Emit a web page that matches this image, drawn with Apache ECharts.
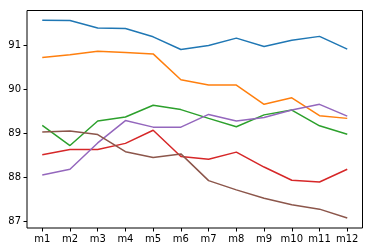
<!DOCTYPE html>
<html><head><meta charset="utf-8">
<script src="https://cdn.jsdelivr.net/npm/echarts@6/dist/echarts.min.js"></script>
<style>html,body{margin:0;padding:0;background:#fff}#c{width:372px;height:252px}</style>
</head><body><div id="c"></div>
<script>
const categories = ['m1','m2','m3','m4','m5','m6','m7','m8','m9','m10','m11','m12'];
const yTicks = [87, 88, 89, 90, 91];
const s1 = [91.58, 91.57, 91.40, 91.39, 91.20, 90.91, 91.00, 91.17, 90.98, 91.12, 91.21, 90.92];
const s2 = [90.73, 90.79, 90.87, 90.84, 90.81, 90.22, 90.10, 90.10, 89.66, 89.81, 89.40, 89.34];
const s3 = [89.18, 88.72, 89.28, 89.37, 89.64, 89.54, 89.34, 89.15, 89.42, 89.53, 89.17, 88.98];
const s4 = [88.51, 88.63, 88.63, 88.77, 89.07, 88.47, 88.41, 88.57, 88.23, 87.93, 87.89, 88.18];
const s5 = [88.05, 88.18, 88.78, 89.29, 89.14, 89.14, 89.43, 89.28, 89.36, 89.53, 89.66, 89.39];
const s6 = [89.03, 89.05, 88.97, 88.58, 88.45, 88.53, 87.92, 87.71, 87.52, 87.37, 87.27, 87.07];
const seriesValues = [s1, s2, s3, s4, s5, s6];
const colors = ['#1f77b4','#ff7f0e','#2ca02c','#d62728','#9467bd','#8c564b'];

const chart = echarts.init(document.getElementById('c'), null, {renderer:'canvas'});
const font = {fontFamily:'DejaVu Sans', fontSize:10, color:'#000'};
chart.setOption({
  animation:false,
  grid:{left:27, right:9.5, top:10.5, bottom:24, show:true, borderColor:'#000', borderWidth:1, backgroundColor:'transparent'},
  xAxis:{type:'value', min:-0.55, max:categories.length-1+0.55,
    axisLine:{show:false, onZero:false}, splitLine:{show:false},
    axisTick:{show:true, length:3.5, inside:false, lineStyle:{color:'#000', width:1}, customValues:categories.map((c,i)=>i)},
    axisLabel:Object.assign({margin:6, customValues:categories.map((c,i)=>i), formatter:v=>categories[Math.round(v)]}, font)
  },
  yAxis:{type:'value', min:86.84, max:91.80,
    axisLine:{show:false, onZero:false}, splitLine:{show:false},
    axisTick:{show:true, length:3.5, lineStyle:{color:'#000', width:1}, customValues:yTicks},
    axisLabel:Object.assign({margin:6, customValues:yTicks, formatter:v=>String(Math.round(v))}, font)
  },
  series: seriesValues.map((vals,k)=>({
    type:'line', data:vals.map((v,i)=>[i,v]), symbol:'none', smooth:false,
    lineStyle:{color:colors[k], width:1.5}, itemStyle:{color:colors[k]}
  }))
});
</script></body></html>
